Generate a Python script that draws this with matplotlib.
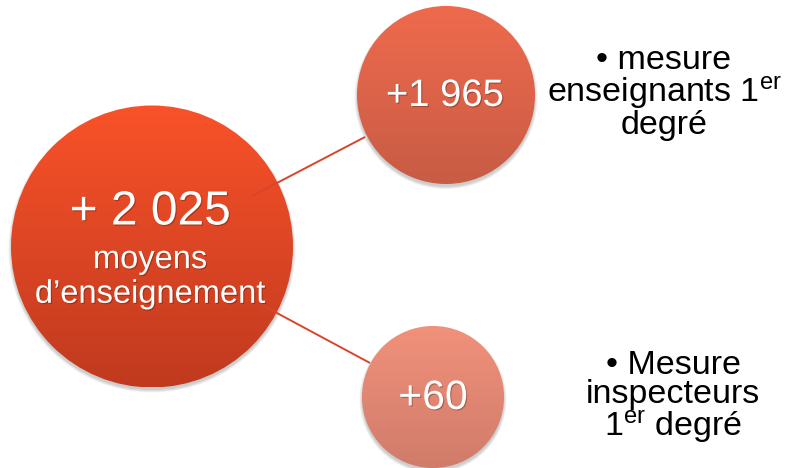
import numpy as np
import matplotlib
matplotlib.use("Agg")
import matplotlib.pyplot as plt
from matplotlib.patches import Circle
import matplotlib.patheffects as pe

plt.rcParams['font.family'] = ['Liberation Sans', 'DejaVu Sans']
plt.rcParams['mathtext.fontset'] = 'custom'
plt.rcParams['mathtext.rm'] = 'Liberation Sans'
plt.rcParams['mathtext.it'] = 'Liberation Sans:italic'
plt.rcParams['mathtext.bf'] = 'Liberation Sans:bold'

# Data
values = ["+ 2 025", "+1 965", "+60"]
main_caption = "moyens\nd\u2019enseignement"
descriptions = ["\u2022 mesure\nenseignants 1$^{\\mathrm{er}}$\ndegr\u00e9",
                "\u2022 Mesure\ninspecteurs\n1$^{\\mathrm{er}}$ degr\u00e9"]

W, H = 791, 468
fig = plt.figure(figsize=(W / 100, H / 100), dpi=100)
ax = fig.add_axes([0, 0, 1, 1])
ax.set_xlim(0, W)
ax.set_ylim(H, 0)
ax.axis('off')

# layout (pixel coordinates)
circles = [
    dict(c=(152, 246.5), r=141, top='#F95229', bot='#C03A1F'),
    dict(c=(446, 95), r=89, top='#EF6A4D', bot='#C85C45'),
    dict(c=(433, 397), r=71, top='#F1917B', bot='#D07C6A'),
]

# connector lines
line_col = '#D8462A'
ax.plot([252, 365], [196, 137], color=line_col, lw=1.4, zorder=2.9, solid_capstyle='butt')
ax.plot([262, 370], [305, 363], color=line_col, lw=1.4, zorder=2.9, solid_capstyle='butt')

def draw_circle(d, z):
    cx, cy = d['c']
    r = d['r']
    # soft shadow
    for i, a in enumerate([0.05, 0.05, 0.05, 0.05]):
        sh = Circle((cx, cy + 2.5), r + 2.5 - i * 0.8, color='black', alpha=a, lw=0, zorder=z)
        ax.add_patch(sh)
    # gradient
    c1 = np.array(matplotlib.colors.to_rgb(d['top']))
    c2 = np.array(matplotlib.colors.to_rgb(d['bot']))
    t = np.linspace(0, 1, 256)[:, None]
    grad = (c1[None, :] * (1 - t) + c2[None, :] * t)[:, None, :]
    im = ax.imshow(grad, extent=(cx - r, cx + r, cy + r, cy - r), aspect='auto',
                   zorder=z + 0.5, interpolation='bilinear')
    clip = Circle((cx, cy), r, transform=ax.transData, fc='none', ec='none')
    ax.add_patch(clip)
    im.set_clip_path(clip)

draw_circle(circles[0], 2)
draw_circle(circles[1], 3)
draw_circle(circles[2], 4)

ax.set_xlim(0, W)
ax.set_ylim(H, 0)

shadow = [pe.withSimplePatchShadow(offset=(0.8, -0.8), shadow_rgbFace='black', alpha=0.25)]

ax.text(150, 212, values[0], color='white', fontsize=34.5, ha='center', va='center',
        zorder=10, path_effects=shadow)
ax.text(150, 277, main_caption, color='white', fontsize=23.5, ha='center', va='center',
        linespacing=1.15, zorder=10, path_effects=shadow)
ax.text(445, 96, values[1], color='white', fontsize=27.5, ha='center', va='center',
        zorder=10, path_effects=shadow)
ax.text(433, 398, values[2], color='white', fontsize=29.5, ha='center', va='center',
        zorder=10, path_effects=shadow)

ax.text(664, 93, descriptions[0], color='black', fontsize=24.5, ha='center', va='center',
        multialignment='center', linespacing=0.95, zorder=10)
ax.text(673, 398, descriptions[1], color='black', fontsize=24.5, ha='center', va='center',
        multialignment='center', linespacing=0.95, zorder=10)

fig.savefig('out.png', dpi=100)
